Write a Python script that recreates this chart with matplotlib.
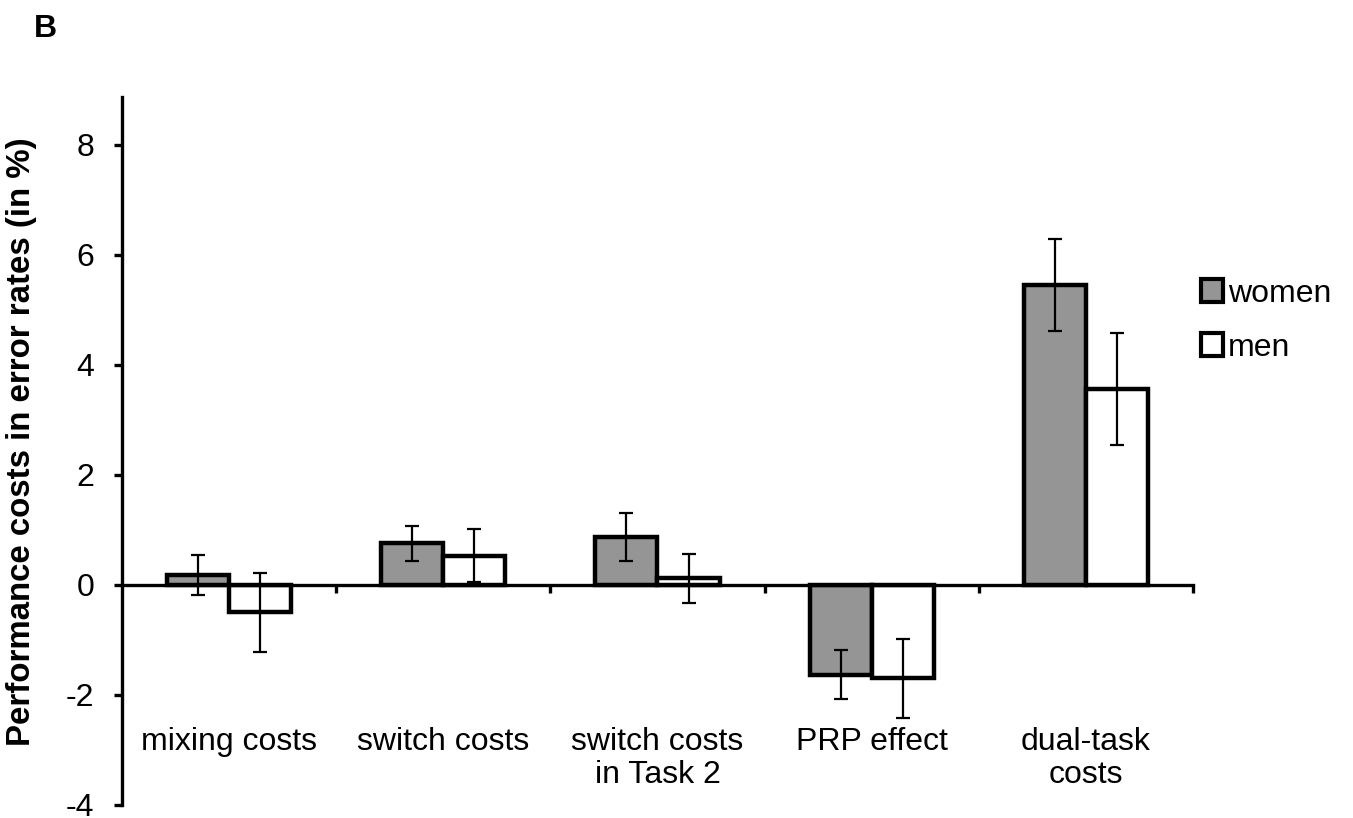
import numpy as np
import matplotlib.pyplot as plt
from matplotlib.patches import Patch

plt.rcParams['font.family'] = ['Liberation Sans', 'DejaVu Sans']

# Performance costs in error rates (%), means and error bars
categories = ['mixing costs', 'switch costs', 'switch costs\nin Task 2',
              'PRP effect', 'dual-task\ncosts']
women = [0.18, 0.76, 0.87, -1.63, 5.45]
women_err = [0.36, 0.32, 0.44, 0.45, 0.83]
men = [-0.50, 0.53, 0.12, -1.70, 3.56]
men_err = [0.71, 0.48, 0.44, 0.72, 1.02]

fig = plt.figure(figsize=(13.53, 8.18), dpi=100)
ax = fig.add_axes([0.0902, 0.0159, 0.7915, 0.8655])

x = np.arange(len(categories))
w = 0.29
bar_kw = dict(edgecolor='black', linewidth=3.2, zorder=2)
err_kw = dict(elinewidth=1.6, capthick=1.6, ecolor='black')

ax.bar(x - w / 2, women, w, color='#959595', label='women',
       yerr=women_err, capsize=5, error_kw=err_kw, **bar_kw)
ax.bar(x + w / 2, men, w, color='white', label='men',
       yerr=men_err, capsize=5, error_kw=err_kw, **bar_kw)

ax.set_xlim(-0.5, len(categories) - 0.5)
ax.set_ylim(-4, 8.87)
ax.set_yticks([-4, -2, 0, 2, 4, 6, 8])
ax.set_yticklabels(['-4', '-2', '0', '2', '4', '6', '8'])

# x axis crosses at zero, ticks between categories
ax.spines['bottom'].set_position(('data', 0))
ax.spines['top'].set_visible(False)
ax.spines['right'].set_visible(False)
ax.spines['left'].set_linewidth(2.4)
ax.spines['bottom'].set_linewidth(2.4)
ax.set_xticks(np.arange(len(categories)) + 0.5)
ax.set_xticklabels([])
ax.tick_params(axis='x', length=6, width=2.4, direction='out')
ax.tick_params(axis='y', length=6, width=2.4, direction='out',
               labelsize=23, pad=14)

for xi, label in zip(x, categories):
    ax.text(xi, -2.58, label, ha='center', va='top', fontsize=23,
            linespacing=1.15)

ax.set_ylabel('Performance costs in error rates (in %)', fontsize=23.8,
              fontweight='bold')
ax.yaxis.set_label_coords(-0.079, 0.513)

handles = [Patch(facecolor='#959595', edgecolor='black', linewidth=3),
           Patch(facecolor='white', edgecolor='black', linewidth=3)]
fig.legend(handles, ['women', 'men'], loc='upper left',
           bbox_to_anchor=(0.878, 0.675), frameon=False, fontsize=23,
           handlelength=0.7, handleheight=0.7, handletextpad=0.15,
           labelspacing=0.75, borderaxespad=0)

fig.text(0.025, 0.964, 'B', fontsize=23, fontweight='bold', va='center')

fig.savefig('out.png', dpi=100)
